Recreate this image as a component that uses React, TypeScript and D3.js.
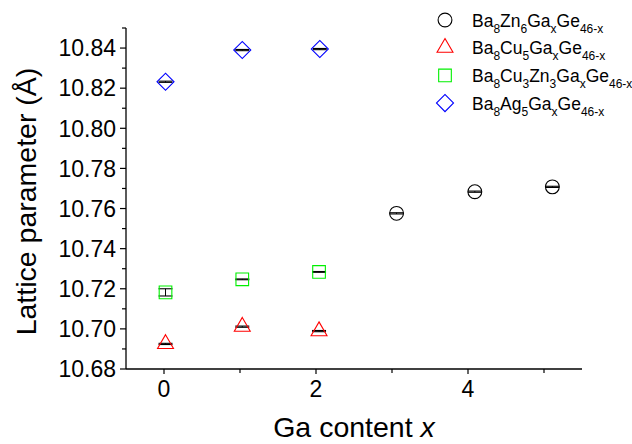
import React, { useEffect, useRef } from 'react';
import * as d3 from 'd3';

// Ga content x, lattice parameter (Å), error bar half-width
const zn6X = [3.06, 4.09, 5.11];
const zn6Y = [10.7576, 10.7684, 10.7708];
const zn6Err = [0.0003, 0.0003, 0.0003];

const cu5X = [0.02, 1.03, 2.04];
const cu5Y = [10.6925, 10.7011, 10.6989];
const cu5Err = [0.0003, 0.0003, 0.0003];

const cu3zn3X = [0.02, 1.03, 2.04];
const cu3zn3Y = [10.7182, 10.7247, 10.7284];
const cu3zn3Err = [0.0018, 0.0002, 0.0002];

const ag5X = [0.02, 1.03, 2.05];
const ag5Y = [10.8232, 10.839, 10.8395];
const ag5Err = [0.0003, 0.0003, 0.0003];

const xTicks = [0, 2, 4];
const xMinorTicks = [1, 3, 5];
const yTicks = [10.68, 10.70, 10.72, 10.74, 10.76, 10.78, 10.80, 10.82, 10.84];
const yMinorTicks = [10.69, 10.71, 10.73, 10.75, 10.77, 10.79, 10.81, 10.83, 10.85];

// legend labels: [text, isSubscript]
const legendLabels: [string, boolean][][] = [
  [['Ba', false], ['8', true], ['Zn', false], ['6', true], ['Ga', false], ['x', true], ['Ge', false], ['46-x', true]],
  [['Ba', false], ['8', true], ['Cu', false], ['5', true], ['Ga', false], ['x', true], ['Ge', false], ['46-x', true]],
  [['Ba', false], ['8', true], ['Cu', false], ['3', true], ['Zn', false], ['3', true], ['Ga', false], ['x', true], ['Ge', false], ['46-x', true]],
  [['Ba', false], ['8', true], ['Ag', false], ['5', true], ['Ga', false], ['x', true], ['Ge', false], ['46-x', true]],
];

const W = 632;
const H = 444;
const FONT = '"Liberation Sans", Arial, sans-serif';

const App: React.FC = () => {
  const svgRef = useRef<SVGSVGElement>(null);

  useEffect(() => {
    const svg = d3.select(svgRef.current);
    svg.selectAll('*').remove();

    const x = d3.scaleLinear().domain([-0.5, 5.5]).range([126, 582]);
    const y = d3.scaleLinear().domain([10.68, 10.85]).range([369, 28]);

    const series = [
      { xs: zn6X, ys: zn6Y, err: zn6Err, color: '#000000', type: 'circle' },
      { xs: cu5X, ys: cu5Y, err: cu5Err, color: '#ff0000', type: 'triangle' },
      { xs: cu3zn3X, ys: cu3zn3Y, err: cu3zn3Err, color: '#00f000', type: 'square' },
      { xs: ag5X, ys: ag5Y, err: ag5Err, color: '#0000ff', type: 'diamond' },
    ];

    const symbolPath = (type: string) => {
      if (type === 'circle') return d3.symbol().type(d3.symbolCircle).size(150)();
      if (type === 'triangle') return d3.symbol().type(d3.symbolTriangle).size(110)();
      if (type === 'square') return d3.symbol().type(d3.symbolSquare).size(160)();
      return d3.symbol().type(d3.symbolSquare).size(145)();
    };
    const symbolRotate = (type: string) => (type === 'diamond' ? ' rotate(45)' : '');

    // axes
    const yAxis = svg.append('g').attr('transform', 'translate(126,0)');
    yAxis.append('line').attr('x1', 0).attr('x2', 0).attr('y1', y(10.85)).attr('y2', y(10.68))
      .attr('stroke', '#000').attr('stroke-width', 1.3);
    yAxis.selectAll('.ymaj').data(yTicks).enter().append('line')
      .attr('x1', -6).attr('x2', 0).attr('y1', d => y(d)).attr('y2', d => y(d))
      .attr('stroke', '#000').attr('stroke-width', 1.2);
    yAxis.selectAll('.ymin').data(yMinorTicks).enter().append('line')
      .attr('x1', -4).attr('x2', 0).attr('y1', d => y(d)).attr('y2', d => y(d))
      .attr('stroke', '#000').attr('stroke-width', 1.2);
    yAxis.selectAll('.ylab').data(yTicks).enter().append('text')
      .attr('x', -10).attr('y', d => y(d)).attr('dy', '0.36em')
      .attr('text-anchor', 'end').style('font-family', FONT).style('font-size', '23px')
      .text(d => d3.format('.2f')(d));

    const xAxis = svg.append('g').attr('transform', 'translate(0,369)');
    xAxis.append('line').attr('x1', x(-0.5)).attr('x2', x(5.5)).attr('y1', 0).attr('y2', 0)
      .attr('stroke', '#000').attr('stroke-width', 1.3);
    xAxis.selectAll('.xmaj').data(xTicks).enter().append('line')
      .attr('x1', d => x(d)).attr('x2', d => x(d)).attr('y1', 0).attr('y2', 5)
      .attr('stroke', '#000').attr('stroke-width', 1.2);
    xAxis.selectAll('.xmin').data(xMinorTicks).enter().append('line')
      .attr('x1', d => x(d)).attr('x2', d => x(d)).attr('y1', 0).attr('y2', 4)
      .attr('stroke', '#000').attr('stroke-width', 1.2);
    xAxis.selectAll('.xlab').data(xTicks).enter().append('text')
      .attr('x', d => x(d)).attr('y', 28)
      .attr('text-anchor', 'middle').style('font-family', FONT).style('font-size', '23px')
      .text(d => String(d));

    // axis titles
    svg.append('text')
      .attr('transform', `translate(36,${(y(10.68) + y(10.85)) / 2 + 3}) rotate(-90)`)
      .attr('text-anchor', 'middle').style('font-family', FONT).style('font-size', '28.5px')
      .text('Lattice parameter (Å)');

    const xt = svg.append('text')
      .attr('x', (x(-0.5) + x(5.5)) / 2).attr('y', 437)
      .attr('text-anchor', 'middle').style('font-family', FONT).style('font-size', '28.5px');
    xt.append('tspan').text('Ga content ');
    xt.append('tspan').style('font-style', 'italic').text('x');

    // points with error bars
    series.forEach(s => {
      const pts = s.xs.map((xv, i) => ({ x: xv, y: s.ys[i], e: s.err[i] }));
      const g = svg.append('g');
      const eb = g.selectAll('.eb').data(pts).enter().append('g');
      eb.append('line')
        .attr('x1', d => x(d.x)).attr('x2', d => x(d.x))
        .attr('y1', d => y(d.y - d.e)).attr('y2', d => y(d.y + d.e))
        .attr('stroke', '#000').attr('stroke-width', 1);
      [-1, 1].forEach(sign => {
        eb.append('line')
          .attr('x1', d => x(d.x) - 7).attr('x2', d => x(d.x) + 7)
          .attr('y1', d => y(d.y + sign * d.e)).attr('y2', d => y(d.y + sign * d.e))
          .attr('stroke', '#000').attr('stroke-width', 1.1);
      });
      g.selectAll('.pt').data(pts).enter().append('path')
        .attr('d', symbolPath(s.type))
        .attr('transform', d => `translate(${x(d.x)},${y(d.y)})${symbolRotate(s.type)}`)
        .attr('fill', 'none').attr('stroke', s.color).attr('stroke-width', 1.1);
    });

    // legend
    const legend = svg.append('g');
    series.forEach((s, i) => {
      const cy = 20 + i * 27.7;
      legend.append('path')
        .attr('d', symbolPath(s.type))
        .attr('transform', `translate(445,${cy})${symbolRotate(s.type)}`)
        .attr('fill', 'none').attr('stroke', s.color).attr('stroke-width', 1.1);
      const t = legend.append('text')
        .attr('x', 472).attr('y', cy + 6.7)
        .style('font-family', FONT).style('font-size', '17.5px');
      let shifted = false;
      legendLabels[i].forEach(([txt, sub]) => {
        const ts = t.append('tspan').text(txt);
        if (sub && !shifted) { ts.attr('dy', 6).style('font-size', '12px'); shifted = true; }
        else if (sub) { ts.style('font-size', '12px'); }
        else if (shifted) { ts.attr('dy', -6); shifted = false; }
      });
    });
  }, []);

  return (
    <svg ref={svgRef} width={W} height={H}
      style={{ position: 'absolute', left: 0, top: 0, background: '#fff' }} />
  );
};

export default App;
